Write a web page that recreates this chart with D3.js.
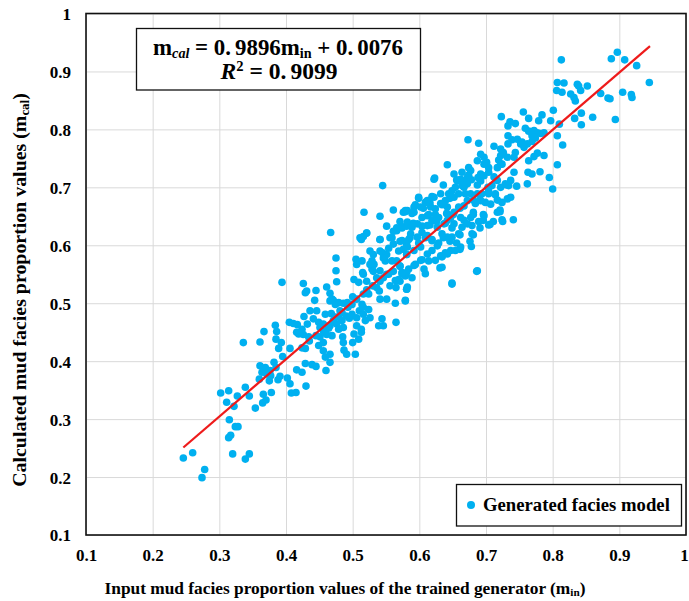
<!DOCTYPE html>
<html>
<head>
<meta charset="utf-8">
<script src="https://cdn.jsdelivr.net/npm/d3@7"></script>
<style>
  html, body { margin: 0; padding: 0; background: #fff; }
  svg { display: block; }
  text { font-family: "Liberation Serif", "Times New Roman", serif; font-weight: bold; fill: #000; }
</style>
</head>
<body>
<svg id="chart" width="689" height="601"></svg>
<script>
// ---------------- data ----------------
const xTicks = [0.1, 0.2, 0.3, 0.4, 0.5, 0.6, 0.7, 0.8, 0.9, 1];
const yTicks = [0.1, 0.2, 0.3, 0.4, 0.5, 0.6, 0.7, 0.8, 0.9, 1];
const fitSlope = 0.9896;
const fitIntercept = 0.0076;
const fitR2 = 0.9099;
const fitRange = [0.246, 0.946];
const seriesName = "Generated facies model";

// [input m_in, calculated m_cal] of generated facies models
const generatedFacies = [
[0.246,0.233],[0.260,0.242],[0.278,0.213],[0.274,0.199],[0.320,0.240],[0.339,0.231],[0.345,0.240],[0.315,0.299],[0.324,0.287],[0.328,0.287],
[0.317,0.272],[0.314,0.268],[0.302,0.345],[0.314,0.349],[0.311,0.329],[0.322,0.322],[0.327,0.340],[0.339,0.355],[0.345,0.340],[0.354,0.319],
[0.365,0.328],[0.370,0.333],[0.366,0.343],[0.378,0.346],[0.360,0.369],[0.375,0.366],[0.388,0.368],[0.361,0.392],[0.369,0.389],[0.364,0.381],
[0.371,0.378],[0.382,0.398],[0.385,0.389],[0.377,0.375],[0.391,0.374],[0.336,0.432],[0.361,0.433],[0.367,0.451],[0.384,0.462],[0.386,0.451],
[0.385,0.438],[0.393,0.432],[0.389,0.422],[0.395,0.408],[0.406,0.422],[0.402,0.371],[0.406,0.361],[0.408,0.345],[0.415,0.346],[0.416,0.385],
[0.424,0.381],[0.430,0.357],[0.429,0.396],[0.439,0.394],[0.445,0.391],[0.460,0.384],[0.411,0.465],[0.417,0.463],[0.424,0.455],[0.416,0.450],
[0.426,0.446],[0.427,0.477],[0.436,0.487],[0.441,0.473],[0.432,0.464],[0.434,0.442],[0.424,0.423],[0.429,0.422],[0.435,0.435],[0.446,0.487],
[0.449,0.467],[0.451,0.458],[0.445,0.444],[0.449,0.427],[0.456,0.432],[0.456,0.418],[0.459,0.407],[0.466,0.398],[0.466,0.412],[0.456,0.452],
[0.461,0.446],[0.466,0.461],[0.469,0.444],[0.459,0.481],[0.468,0.482],[0.471,0.470],[0.476,0.464],[0.484,0.470],[0.485,0.442],[0.486,0.432],
[0.487,0.419],[0.491,0.412],[0.504,0.412],[0.500,0.432],[0.502,0.447],[0.506,0.461],[0.513,0.455],[0.510,0.487],[0.516,0.493],[0.524,0.489],
[0.526,0.475],[0.499,0.481],[0.495,0.474],[0.486,0.458],[0.479,0.455],[0.481,0.487],[0.474,0.498],[0.466,0.504],[0.471,0.505],[0.479,0.501],
[0.486,0.500],[0.492,0.501],[0.500,0.511],[0.499,0.498],[0.493,0.493],[0.506,0.507],[0.443,0.505],[0.445,0.522],[0.429,0.518],[0.431,0.521],
[0.426,0.534],[0.394,0.536],[0.461,0.528],[0.476,0.537],[0.475,0.556],[0.475,0.578],[0.467,0.622],[0.466,0.517],[0.469,0.507],[0.506,0.567],
[0.505,0.576],[0.502,0.541],[0.509,0.536],[0.516,0.550],[0.511,0.613],[0.521,0.621],[0.526,0.567],[0.529,0.559],[0.532,0.567],[0.541,0.610],
[0.545,0.587],[0.549,0.573],[0.541,0.556],[0.536,0.544],[0.530,0.530],[0.540,0.521],[0.541,0.507],[0.551,0.507],[0.556,0.530],[0.564,0.539],
[0.564,0.500],[0.579,0.504],[0.581,0.524],[0.539,0.461],[0.546,0.461],[0.544,0.473],[0.565,0.467],[0.551,0.584],[0.556,0.613],[0.561,0.602],
[0.566,0.625],[0.574,0.630],[0.581,0.633],[0.576,0.657],[0.566,0.573],[0.571,0.564],[0.574,0.553],[0.569,0.541],[0.579,0.547],[0.581,0.584],
[0.576,0.593],[0.581,0.602],[0.584,0.610],[0.554,0.550],[0.546,0.544],[0.521,0.523],[0.516,0.516],[0.524,0.516],[0.514,0.498],[0.516,0.481],
[0.519,0.470],[0.506,0.475],[0.513,0.450],[0.509,0.438],[0.405,0.467],[0.419,0.447],[0.376,0.384],[0.456,0.464],[0.464,0.457],[0.451,0.442],
[0.474,0.476],[0.479,0.476],[0.484,0.484],[0.490,0.478],
[0.545,0.703],[0.622,0.714],[0.656,0.713],[0.666,0.710],[0.674,0.721],[0.731,0.704],[0.714,0.687],[0.704,0.693],[0.599,0.681],[0.619,0.684],
[0.634,0.670],[0.616,0.673],[0.646,0.681],[0.681,0.678],[0.691,0.678],[0.579,0.658],[0.589,0.655],[0.594,0.670],[0.606,0.664],[0.614,0.653],
[0.624,0.653],[0.641,0.655],[0.651,0.653],[0.661,0.664],[0.721,0.658],[0.696,0.653],[0.681,0.653],[0.689,0.641],[0.704,0.635],[0.711,0.641],
[0.725,0.641],[0.691,0.630],[0.681,0.618],[0.676,0.607],[0.661,0.618],[0.649,0.630],[0.639,0.638],[0.626,0.641],[0.616,0.635],[0.604,0.633],
[0.591,0.638],[0.581,0.635],[0.571,0.641],[0.566,0.630],[0.561,0.624],[0.551,0.633],[0.541,0.610],[0.521,0.621],[0.516,0.615],[0.513,0.610],
[0.559,0.613],[0.571,0.607],[0.586,0.613],[0.599,0.604],[0.609,0.613],[0.619,0.610],[0.629,0.604],[0.636,0.613],[0.646,0.607],[0.656,0.604],
[0.661,0.593],[0.639,0.587],[0.634,0.581],[0.631,0.561],[0.649,0.533],[0.686,0.555],[0.604,0.575],[0.594,0.567],[0.614,0.573],[0.581,0.584],
[0.569,0.590],[0.554,0.595],[0.541,0.590],[0.531,0.584],[0.526,0.590],[0.546,0.578],[0.559,0.573],[0.571,0.564],[0.561,0.555],[0.551,0.550],
[0.581,0.553],[0.589,0.544],[0.571,0.538],[0.581,0.524],[0.565,0.527],[0.541,0.538],[0.536,0.527],[0.521,0.538],[0.515,0.553],[0.531,0.555],
[0.529,0.573],[0.514,0.573],[0.541,0.650],[0.517,0.657],[0.561,0.661],[0.636,0.704],
[0.813,0.920],[0.888,0.922],[0.897,0.933],[0.908,0.920],[0.926,0.910],[0.945,0.881],[0.905,0.864],[0.918,0.860],[0.919,0.855],[0.894,0.817],
[0.883,0.854],[0.886,0.853],[0.872,0.862],[0.860,0.821],[0.843,0.828],[0.843,0.808],[0.833,0.819],[0.852,0.875],[0.839,0.875],[0.842,0.867],
[0.837,0.878],[0.832,0.855],[0.834,0.849],[0.827,0.861],[0.807,0.881],[0.817,0.880],[0.806,0.867],[0.814,0.864],[0.801,0.833],[0.810,0.809],
[0.807,0.789],[0.815,0.773],[0.807,0.739],[0.800,0.697],[0.795,0.717],[0.787,0.755],[0.781,0.727],[0.797,0.815],[0.784,0.825],[0.779,0.815],
[0.764,0.819],[0.756,0.830],[0.736,0.813],[0.744,0.810],[0.723,0.822],[0.733,0.806],[0.759,0.802],[0.764,0.797],[0.772,0.798],[0.777,0.794],
[0.782,0.793],[0.787,0.794],[0.769,0.789],[0.774,0.785],[0.769,0.779],[0.762,0.775],[0.754,0.778],[0.747,0.783],[0.752,0.775],[0.757,0.769],
[0.733,0.789],[0.739,0.782],[0.733,0.775],[0.722,0.766],[0.726,0.760],[0.722,0.755],[0.719,0.747],[0.724,0.740],[0.712,0.771],[0.689,0.776],
[0.673,0.782],[0.697,0.752],[0.701,0.743],[0.704,0.734],[0.717,0.734],[0.722,0.740],[0.732,0.752],[0.742,0.752],[0.744,0.760],[0.764,0.746],
[0.772,0.753],[0.777,0.759],[0.763,0.726],[0.769,0.723],[0.762,0.706],[0.742,0.726],[0.737,0.712],[0.746,0.702],[0.734,0.703],[0.729,0.706],
[0.722,0.700],[0.717,0.712],[0.712,0.718],[0.704,0.726],[0.697,0.720],[0.692,0.723],[0.688,0.717],[0.703,0.700],[0.709,0.703],[0.692,0.711],
[0.687,0.704],[0.678,0.713],[0.662,0.714],[0.664,0.703],[0.654,0.700],[0.642,0.739],[0.623,0.716],[0.687,0.689],[0.694,0.689],[0.704,0.689],
[0.714,0.689],[0.717,0.678],[0.724,0.674],[0.732,0.680],[0.737,0.683],[0.721,0.661],[0.717,0.657],[0.724,0.644],[0.741,0.644],[0.706,0.636],
[0.696,0.643],[0.697,0.651],[0.707,0.671],[0.699,0.674],[0.692,0.677],[0.684,0.672],[0.681,0.657],[0.677,0.648],[0.679,0.634],[0.679,0.620],
[0.678,0.598],[0.687,0.556],[0.649,0.535],[0.634,0.562],[0.667,0.643],[0.664,0.631],[0.659,0.620],[0.669,0.689],[0.672,0.677],[0.667,0.668],
[0.659,0.666],[0.652,0.683],[0.644,0.689],[0.639,0.677],[0.632,0.672],[0.652,0.657],[0.647,0.648],[0.642,0.643],[0.637,0.637],[0.662,0.597],
[0.654,0.591],[0.647,0.591],[0.642,0.585],[0.634,0.580],[0.649,0.614],[0.642,0.614],[0.634,0.620],[0.627,0.631],[0.622,0.643],[0.612,0.651],
[0.604,0.648],[0.617,0.666],[0.609,0.674],[0.599,0.683],[0.592,0.666],[0.582,0.660],
[0.574,0.631],[0.582,0.640],[0.589,0.631],[0.597,0.637],[0.587,0.620],[0.597,0.614],[0.604,0.622],[0.612,0.617],[0.619,0.608],[0.627,0.599],
[0.574,0.608],[0.582,0.597],[0.592,0.591],[0.602,0.597],[0.612,0.585],[0.619,0.591],[0.624,0.574],[0.632,0.582],[0.602,0.574],[0.592,0.565],
[0.584,0.559],[0.574,0.551],[0.607,0.559],[0.609,0.551],[0.582,0.528],[0.579,0.505],[0.642,0.654],[0.652,0.637],[0.662,0.648],[0.672,0.637],
[0.659,0.689],[0.649,0.694],[0.632,0.689],[0.622,0.683],[0.612,0.677],[0.602,0.666],[0.592,0.657],[0.579,0.660],[0.642,0.666],[0.624,0.663],
[0.629,0.648],[0.619,0.643],[0.612,0.634],[0.672,0.706],[0.667,0.700],[0.677,0.689],[0.672,0.717],[0.664,0.726],[0.677,0.729],[0.687,0.746],
[0.692,0.757],[0.697,0.740],[0.674,0.734],[0.652,0.723],[0.657,0.711]
];

// ---------------- layout ----------------
const svg = d3.select("#chart");
const plot = { left: 86, right: 686, top: 13.5, bottom: 535 };
const x = d3.scaleLinear().domain([0.1, 1]).range([plot.left, plot.right]);
const y = d3.scaleLinear().domain([0.1, 1]).range([plot.bottom, plot.top]);
const tickFmt = d => String(d);

svg.append("rect").attr("width", 689).attr("height", 601).attr("fill", "#fff");

// gridlines + tick labels via axes
const gx = svg.append("g").attr("transform", `translate(0,${plot.bottom})`)
  .call(d3.axisBottom(x).tickValues(xTicks).tickFormat(tickFmt)
        .tickSize(-(plot.bottom - plot.top)).tickPadding(14));
const gy = svg.append("g").attr("transform", `translate(${plot.left},0)`)
  .call(d3.axisLeft(y).tickValues(yTicks).tickFormat(tickFmt)
        .tickSize(-(plot.right - plot.left)).tickPadding(15));
[gx, gy].forEach(g => {
  g.select(".domain").remove();
  g.selectAll(".tick line").attr("stroke", "#d9d9d9").attr("stroke-width", 1);
  g.selectAll(".tick text").attr("font-size", 17).attr("font-weight", "bold")
    .attr("font-family", '"Liberation Serif", "Times New Roman", serif').attr("fill", "#000");
});
gy.selectAll(".tick text").attr("dy", "0.35em");
// keep the last x label inside the window
gx.selectAll(".tick text").filter(d => d === 1).attr("dx", -2);

// points
svg.append("g").selectAll("circle").data(generatedFacies).join("circle")
  .attr("cx", d => x(d[0])).attr("cy", d => y(d[1])).attr("r", 3.8)
  .attr("fill", "#00b0f0");

// regression line
svg.append("line")
  .attr("x1", x(fitRange[0])).attr("y1", y(fitSlope * fitRange[0] + fitIntercept))
  .attr("x2", x(fitRange[1])).attr("y2", y(fitSlope * fitRange[1] + fitIntercept))
  .attr("stroke", "#ee1b1b").attr("stroke-width", 2.2);

// frame
svg.append("rect").attr("x", plot.left).attr("y", plot.top)
  .attr("width", plot.right - plot.left).attr("height", plot.bottom - plot.top)
  .attr("fill", "none").attr("stroke", "#111").attr("stroke-width", 1.6);

function fit(sel, target) {
  const w = sel.node().getComputedTextLength();
  const fs = parseFloat(sel.attr("font-size"));
  sel.attr("font-size", (fs * target / w).toFixed(2));
}

// equation box
svg.append("rect").attr("x", 136.5).attr("y", 28.5).attr("width", 284).attr("height", 61.5)
  .attr("fill", "#fff").attr("stroke", "#111").attr("stroke-width", 1.3);
const eq1 = svg.append("text").attr("x", 278).attr("y", 54.5).attr("text-anchor", "middle").attr("font-size", 20);
eq1.append("tspan").text("m");
eq1.append("tspan").attr("font-size", "0.62em").attr("font-style", "italic").attr("baseline-shift", "-18%").text("cal");
eq1.append("tspan").text(" = 0.");
eq1.append("tspan").attr("dx", 4).text(fitSlope.toFixed(4).slice(2) + "m");
eq1.append("tspan").attr("font-size", "0.62em").attr("baseline-shift", "-18%").text("in");
eq1.append("tspan").text(" + 0.");
eq1.append("tspan").attr("dx", 4).text(fitIntercept.toFixed(4).slice(2));
fit(eq1, 242);
const eq2 = svg.append("text").attr("x", 279).attr("y", 79).attr("text-anchor", "middle").attr("font-size", 20);
eq2.append("tspan").attr("font-style", "italic").text("R");
eq2.append("tspan").attr("font-size", "0.62em").attr("baseline-shift", "super").text("2");
eq2.append("tspan").text(" = 0.");
eq2.append("tspan").attr("dx", 4).text(fitR2.toFixed(4).slice(2));
fit(eq2, 113);

// legend
svg.append("rect").attr("x", 456.5).attr("y", 484.5).attr("width", 225).attr("height", 41.5)
  .attr("fill", "#fff").attr("stroke", "#111").attr("stroke-width", 1.3);
svg.append("circle").attr("cx", 471).attr("cy", 505).attr("r", 4).attr("fill", "#00b0f0");
const lg = svg.append("text").attr("x", 483).attr("y", 511).attr("font-size", 17).text(seriesName);
fit(lg, 187);

// axis titles
const xt = svg.append("text").attr("x", 345).attr("y", 594).attr("text-anchor", "middle").attr("font-size", 17);
xt.append("tspan").text("Input mud facies proportion values of the trained generator (m");
xt.append("tspan").attr("font-size", "0.65em").attr("baseline-shift", "-20%").text("in");
xt.append("tspan").text(")");
fit(xt, 481);

const yt = svg.append("text").attr("transform", "translate(26,290) rotate(-90)")
  .attr("text-anchor", "middle").attr("font-size", 17);
yt.append("tspan").text("Calculated mud facies proportion values (m");
yt.append("tspan").attr("font-size", "0.65em").attr("baseline-shift", "-20%").text("cal");
yt.append("tspan").text(")");
fit(yt, 394);
</script>
</body>
</html>
